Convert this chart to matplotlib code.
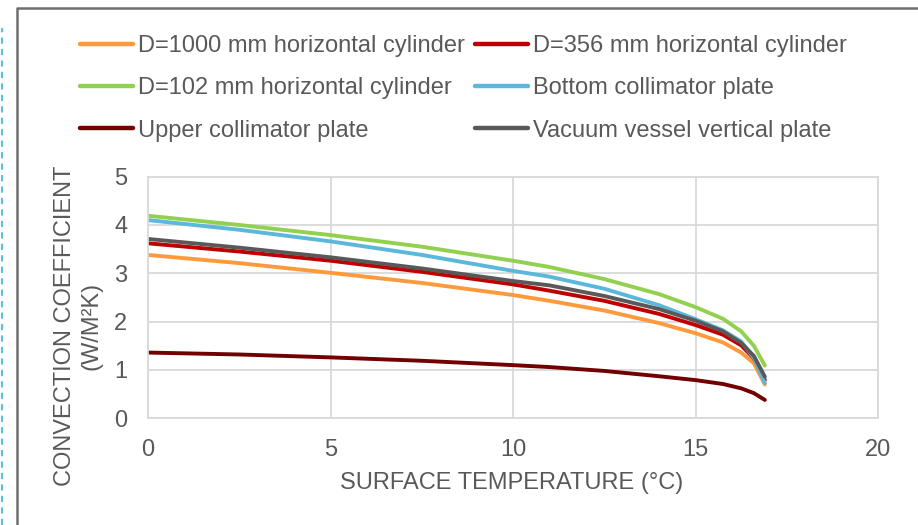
import matplotlib
matplotlib.use("Agg")
import matplotlib.pyplot as plt
from matplotlib.lines import Line2D

plt.rcParams['font.family'] = ['Liberation Sans', 'DejaVu Sans']

# surface temperature (deg C)
temp = [0, 2.5, 5, 7.5, 10, 11, 12.5, 14, 15, 15.75, 16.25, 16.6, 16.9]

# convection coefficient (W/m2K)
cyl_1000 = [3.38, 3.21, 3.01, 2.80, 2.55, 2.43, 2.23, 1.97, 1.76, 1.57, 1.36, 1.14, 0.70]
cyl_356 = [3.62, 3.45, 3.26, 3.03, 2.77, 2.64, 2.43, 2.16, 1.93, 1.73, 1.51, 1.24, 0.79]
cyl_102 = [4.19, 4.00, 3.79, 3.55, 3.26, 3.13, 2.88, 2.57, 2.30, 2.06, 1.80, 1.50, 1.09]
bottom_plate = [4.10, 3.90, 3.66, 3.38, 3.05, 2.93, 2.68, 2.34, 2.05, 1.82, 1.59, 1.25, 0.73]
upper_plate = [1.36, 1.32, 1.26, 1.19, 1.10, 1.06, 0.98, 0.87, 0.79, 0.71, 0.62, 0.52, 0.38]
vessel_plate = [3.71, 3.53, 3.33, 3.10, 2.84, 2.75, 2.53, 2.26, 2.02, 1.80, 1.56, 1.29, 0.86]

series = [
    ('D=1000 mm horizontal cylinder', cyl_1000, '#FF9A3C'),
    ('D=356 mm horizontal cylinder', cyl_356, '#C00000'),
    ('D=102 mm horizontal cylinder', cyl_102, '#92D050'),
    ('Bottom collimator plate', bottom_plate, '#5BB8DA'),
    ('Upper collimator plate', upper_plate, '#720000'),
    ('Vacuum vessel vertical plate', vessel_plate, '#595959'),
]

txt = '#595959'
grid = '#D9D9D9'

fig = plt.figure(figsize=(9.18, 5.25), dpi=100)
ax = fig.add_axes([148/918, 1 - 418.3/525, 730/918, 241.7/525])

for name, vals, col in series:
    ax.plot(temp, vals, color=col, lw=2.8, label=name,
            solid_capstyle='round', solid_joinstyle='round')

ax.set_xlim(0, 20)
ax.set_ylim(0, 5)
ax.set_xticks([0, 5, 10, 15, 20])
ax.set_yticks([0, 1, 2, 3, 4, 5])
ax.grid(True, color=grid, lw=1.3)
ax.set_axisbelow(True)
for s in ax.spines.values():
    s.set_color(grid)
    s.set_linewidth(1.3)
ax.tick_params(length=0, labelsize=17, labelcolor=txt)
ax.tick_params(axis='x', pad=15)
ax.tick_params(axis='y', pad=15)

fig.text(512/918, 1 - 483/525, 'SURFACE TEMPERATURE (°C)', ha='center', va='center',
         fontsize=17, color=txt)
fig.text(78/918, 1 - 326/525, 'CONVECTION COEFFICIENT\n(W/M²K)', ha='center', va='center',
         rotation=90, fontsize=17, color=txt, linespacing=1.25, multialignment='center')

handles = [Line2D([], [], color=c, lw=3.2, solid_capstyle='round') for _, _, c in series]
labels = [n for n, _, _ in series]
# legend is row-wise in the picture, matplotlib fills columns first
order = [0, 2, 4, 1, 3, 5]
fig.legend([handles[i] for i in order], [labels[i] for i in order],
           ncol=2, loc='upper left', bbox_to_anchor=(80/918, 1 - 35/525),
           frameon=False, fontsize=17, labelcolor=txt, handlelength=2.25,
           handletextpad=0.2, columnspacing=0.45, labelspacing=0.86,
           borderaxespad=0, borderpad=0)

# outer chart frame and dashed selection line
fig.add_artist(Line2D([17/918, 17/918, 1], [0, 1 - 8/525, 1 - 8/525],
                      transform=fig.transFigure, color='#6E6E6E', lw=1.8))
fig.add_artist(Line2D([1.5/918, 1.5/918], [0, 1 - 28/525], transform=fig.transFigure,
                      color='#5BC0DE', lw=1.5, dashes=(3, 2.5)))

fig.savefig('out.png', dpi=100)
